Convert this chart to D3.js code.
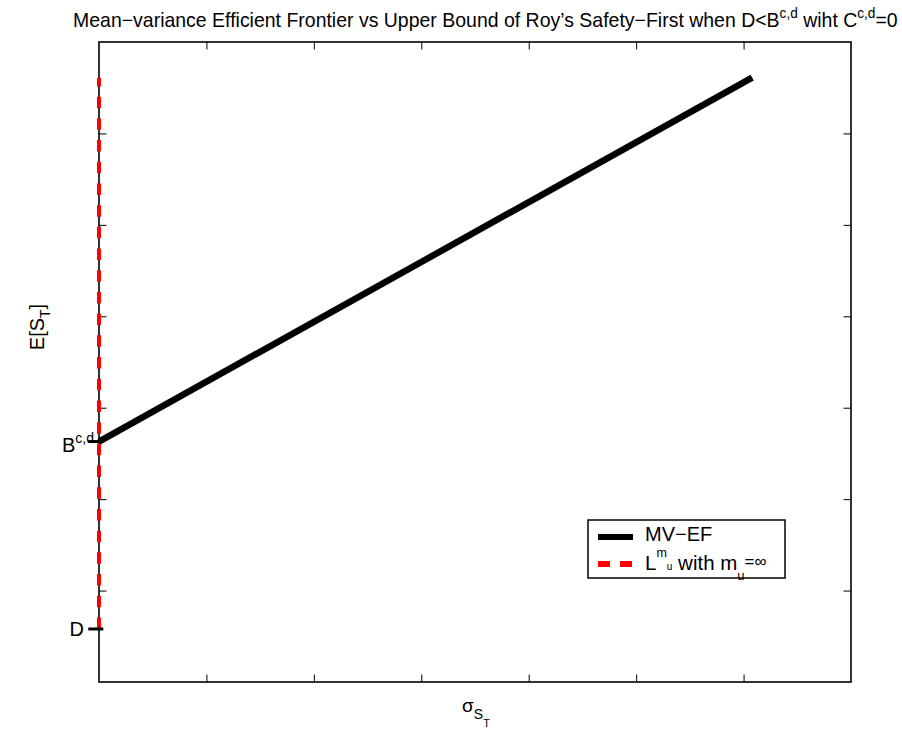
<!DOCTYPE html>
<html><head><meta charset="utf-8">
<script src="https://cdn.jsdelivr.net/npm/d3@7"></script>
<style>
body{margin:0;background:#fff}
svg{display:block}
text{font-family:"Liberation Sans",Arial,Helvetica,sans-serif;fill:#000}
</style>
</head><body><div id="chart"></div>
<script>
// ---- data ----
const frontierSigma = [0, 6.08];
const frontierMean  = [2.63, 6.61];
const boundSigma    = [0, 0];
const boundMean     = [0.58, 6.61];
const xTickValues   = [1, 2, 3, 4, 5, 6];
const yTickValues   = [1, 2, 3, 4, 5, 6];
const markNames     = ["D", "B"];
const markValues    = [0.58, 2.63];
const legendNames   = ["MV−EF", "L^m_u with m_u=∞"];

const W = 902, H = 734;
const svg = d3.select("#chart").append("svg").attr("width", W).attr("height", H);
const x = d3.scaleLinear().domain([0, 7]).range([99, 851]);
const y = d3.scaleLinear().domain([0, 7]).range([682, 42]);

// rich text helper: parts = [{t, size, shift}] shift = baseline offset (px, +down)
function rich(sel, parts) {
  let prev = 0;
  parts.forEach(p => {
    sel.append("tspan").attr("font-size", p.size).attr("dy", (p.shift || 0) - prev).text(p.t);
    prev = p.shift || 0;
  });
  return sel;
}

// axes box
const tickLen = 7.5;
svg.append("rect").attr("x", x(0)).attr("y", y(7)).attr("width", x(7) - x(0)).attr("height", y(0) - y(7))
  .attr("fill", "none").attr("stroke", "#000").attr("stroke-width", 1.6);

const xAxisB = d3.axisBottom(x).tickValues(xTickValues).tickSize(-tickLen).tickFormat("");
const xAxisT = d3.axisTop(x).tickValues(xTickValues).tickSize(-tickLen).tickFormat("");
const yAxisL = d3.axisLeft(y).tickValues(yTickValues).tickSize(-tickLen).tickFormat("");
const yAxisR = d3.axisRight(y).tickValues(yTickValues).tickSize(-tickLen).tickFormat("");
[[xAxisB, `translate(0,${y(0)})`], [xAxisT, `translate(0,${y(7)})`],
 [yAxisL, `translate(${x(0)},0)`], [yAxisR, `translate(${x(7)},0)`]].forEach(([ax, tr]) => {
  const g = svg.append("g").attr("transform", tr).call(ax);
  g.select(".domain").remove();
  g.selectAll(".tick line").attr("stroke", "#000").attr("stroke-width", 1);
});

// red dashed bound line
const line = d3.line().x(d => x(d[0])).y(d => y(d[1]));
svg.append("path").datum(boundSigma.map((s, i) => [s, boundMean[i]]))
  .attr("d", line).attr("fill", "none").attr("stroke", "#ff0000").attr("stroke-width", 4)
  .attr("stroke-dasharray", "11.5,10.2");

// black frontier
svg.append("path").datum(frontierSigma.map((s, i) => [s, frontierMean[i]]))
  .attr("d", line).attr("fill", "none").attr("stroke", "#000").attr("stroke-width", 6.5);

// D and B marks
markValues.forEach(v => {
  svg.append("line").attr("x1", x(-0.1)).attr("x2", x(0.04)).attr("y1", y(v)).attr("y2", y(v))
    .attr("stroke", "#000").attr("stroke-width", 3);
});
svg.append("text").attr("x", 84).attr("y", y(markValues[0]) + 7).attr("text-anchor", "end")
  .attr("font-size", 20).text(markNames[0]);
rich(svg.append("text").attr("x", 62).attr("y", y(markValues[1]) + 10.5),
  [{t: markNames[1], size: 20, shift: 0}, {t: "c,d", size: 14, shift: -9}]);

// title
const title = svg.append("text").attr("x", 0).attr("y", 0);
rich(title, [
  {t: "Mean−variance Efficient Frontier vs Upper Bound of Roy’s Safety−First when D<B", size: 20, shift: 0},
  {t: "c,d", size: 14, shift: -9},
  {t: " wiht C", size: 20, shift: 0},
  {t: "c,d", size: 14, shift: -9},
  {t: "=0", size: 20, shift: 0}
]);
const tw = title.node().getComputedTextLength();
const tx0 = 73, tx1 = 898;
title.attr("transform", `translate(${tx0},27) scale(${(tx1 - tx0) / tw},1)`);

// x label
rich(svg.append("text").attr("x", 476).attr("y", 712).attr("text-anchor", "middle"), [
  {t: "σ", size: 19, shift: 0}, {t: "S", size: 14, shift: 7}, {t: "T", size: 11, shift: 15}
]);

// y label
rich(svg.append("text").attr("transform", "translate(44,327) rotate(-90)").attr("text-anchor", "middle"), [
  {t: "E[S", size: 20, shift: 0}, {t: "T", size: 14, shift: 6}, {t: "]", size: 20, shift: 0}
]);

// legend
const lg = svg.append("g");
lg.append("rect").attr("x", 588).attr("y", 520).attr("width", 197).attr("height", 58)
  .attr("fill", "#fff").attr("stroke", "#000").attr("stroke-width", 1.5);
lg.append("line").attr("x1", 598).attr("x2", 633).attr("y1", 537).attr("y2", 537)
  .attr("stroke", "#000").attr("stroke-width", 6);
lg.append("line").attr("x1", 598).attr("x2", 632).attr("y1", 564).attr("y2", 564)
  .attr("stroke", "#ff0000").attr("stroke-width", 6).attr("stroke-dasharray", "12,10");
lg.append("text").attr("x", 645).attr("y", 540.5).attr("font-size", 20).text(legendNames[0]);
rich(lg.append("text").attr("x", 645).attr("y", 570), [
  {t: "L", size: 20.5, shift: 0}, {t: "m", size: 12.5, shift: -13.5}, {t: "u", size: 10, shift: 0},
  {t: " with m", size: 20.5, shift: 0}, {t: "u", size: 13, shift: 10}, {t: "=∞", size: 17, shift: -3}
]);
</script>
</body></html>
